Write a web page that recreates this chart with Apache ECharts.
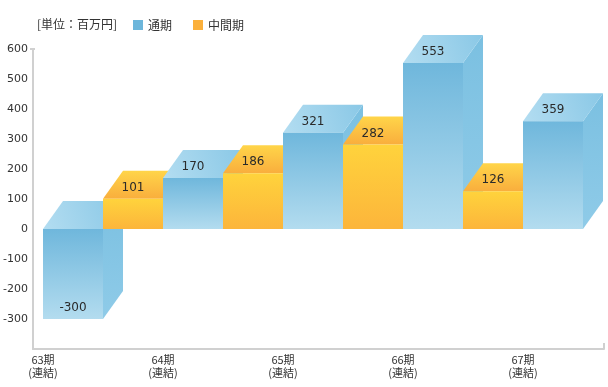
<!DOCTYPE html>
<html><head><meta charset="utf-8">
<script src="https://cdn.jsdelivr.net/npm/echarts@6/dist/echarts.min.js"></script>
<style>html,body{margin:0;padding:0;background:#fff}#c{width:608px;height:387px}</style>
</head><body><div id="c"></div>
<script>
const categories = ['63期\n(連結)', '64期\n(連結)', '65期\n(連結)', '66期\n(連結)', '67期\n(連結)'];
const annual = [-300, 170, 321, 553, 359];
const interim = [101, 186, 282, 126];
const yTicks = [-400, 600, 100];
const unitText = '[単位：百万円]';

const chart = echarts.init(document.getElementById('c'));
const LG = echarts.graphic.LinearGradient;
const DX = 20, DY = 28;

const palette = {
  blue: {
    front: new LG(0, 0, 0, 1, [{offset: 0, color: '#6fb7dc'}, {offset: 1, color: '#b3dcef'}]),
    top: new LG(0, 1, 1, 0, [{offset: 0, color: '#b3ddf1'}, {offset: 1, color: '#8ac8e6'}]),
    side: new LG(0, 0, 0, 1, [{offset: 0, color: '#7bc0e1'}, {offset: 1, color: '#8fcbe8'}])
  },
  yellow: {
    front: new LG(0, 0, 0, 1, [{offset: 0, color: '#ffd33c'}, {offset: 1, color: '#fcb53b'}]),
    top: new LG(0, 1, 0, 0, [{offset: 0, color: '#f9ae3d'}, {offset: 1, color: '#ffd549'}]),
    side: new LG(0, 0, 0, 1, [{offset: 0, color: '#f6b23a'}, {offset: 1, color: '#f8c23c'}])
  }
};

function makeRender(pal, slot) {
  return function (params, api) {
    const idx = api.value(0);
    const val = api.value(1);
    const band = api.size([1, 0])[0];
    const w = band / 2;
    const p0 = api.coord([idx, 0]);
    const pv = api.coord([idx, val]);
    const x0 = p0[0] + slot * w;
    const yt = Math.min(p0[1], pv[1]);
    const yb = Math.max(p0[1], pv[1]);
    const z = idx * 4 + slot * 2;
    return {
      type: 'group',
      children: [
        {type: 'polygon', z2: z, shape: {points: [[x0 + w, yt], [x0 + w + DX, yt - DY], [x0 + w + DX, yb - DY], [x0 + w, yb]]}, style: {fill: pal.side}},
        {type: 'polygon', z2: z, shape: {points: [[x0, yt], [x0 + w, yt], [x0 + w + DX, yt - DY], [x0 + DX, yt - DY]]}, style: {fill: pal.top}},
        {type: 'rect', z2: z + 1, shape: {x: x0, y: yt, width: w, height: yb - yt}, style: {fill: pal.front}},
        {type: 'text', z2: 100, x: x0 + w / 2, y: pv[1] - 11, style: {text: String(val), fill: '#2a2a2a', font: '12px "DejaVu Sans"', align: 'center', verticalAlign: 'middle'}}
      ]
    };
  };
}

chart.setOption({
  animation: false,
  legend: {
    left: 128, top: 14, itemWidth: 10, itemHeight: 10, itemGap: 21, icon: 'rect',
    textStyle: {fontSize: 12, color: '#333', fontFamily: 'Noto Sans CJK JP'},
    data: ['通期', '中間期']
  },
  graphic: [
    {type: 'text', left: 37, top: 18, style: {text: unitText, fontSize: 12, fill: '#333', fontFamily: 'Noto Sans CJK JP'}},
    {type: 'line', shape: {x1: 30, y1: 49, x2: 35, y2: 49}, style: {stroke: '#d0d0d0', lineWidth: 2}},
    {type: 'line', shape: {x1: 604, y1: 343, x2: 604, y2: 349}, style: {stroke: '#d0d0d0', lineWidth: 2}}
  ],
  grid: [
    {left: 43, right: 85, top: 49, height: 300},
    {left: 30, right: 4, top: 49, height: 300}
  ],
  xAxis: [
    {type: 'category', gridIndex: 0, data: categories, boundaryGap: false,
     axisLine: {show: false}, axisTick: {show: false}, splitLine: {show: false},
     axisLabel: {margin: 4, fontSize: 11, lineHeight: 13, color: '#333', fontFamily: 'Noto Sans CJK JP', align: 'center'}},
    {type: 'value', gridIndex: 1, min: 0, max: 1,
     axisLine: {show: true, onZero: false, lineStyle: {color: '#d0d0d0', width: 2}}, axisTick: {show: false}, axisLabel: {show: false}, splitLine: {show: false}}
  ],
  yAxis: [
    {type: 'value', gridIndex: 0, min: yTicks[0], max: yTicks[1], interval: yTicks[2], show: false},
    {type: 'value', gridIndex: 1, min: yTicks[0], max: yTicks[1], interval: yTicks[2],
     axisLine: {show: true, onZero: false, lineStyle: {color: '#d0d0d0', width: 2}}, axisTick: {show: false}, splitLine: {show: false},
     axisLabel: {margin: 5, fontSize: 11, color: '#333', fontFamily: 'DejaVu Sans', showMinLabel: false}}
  ],
  series: [
    {name: '通期', type: 'custom', xAxisIndex: 0, yAxisIndex: 0, itemStyle: {color: '#6db6db'},
     data: annual.map((v, i) => [i, v]), renderItem: makeRender(palette.blue, 0), clip: false},
    {name: '中間期', type: 'custom', xAxisIndex: 0, yAxisIndex: 0, itemStyle: {color: '#fbb03b'},
     data: interim.map((v, i) => [i, v]), renderItem: makeRender(palette.yellow, 1), clip: false}
  ]
});
</script></body></html>
